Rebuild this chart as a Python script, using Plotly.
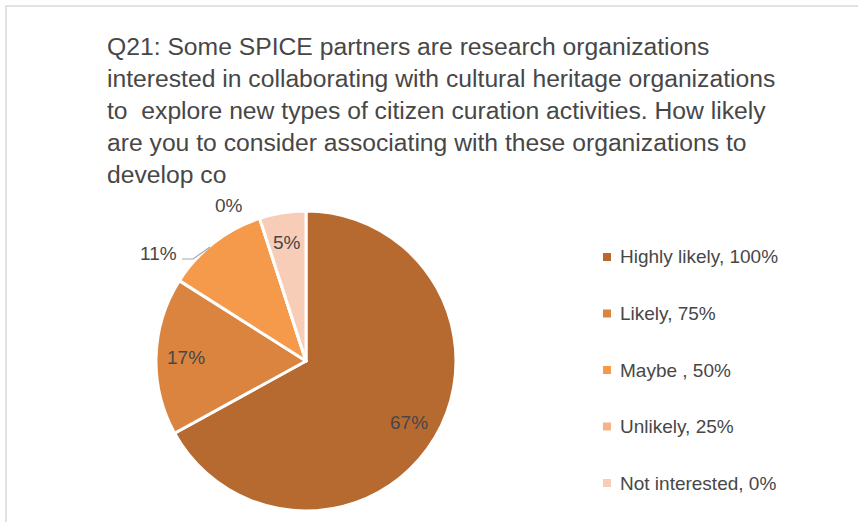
import math
import plotly.graph_objects as go

# Survey responses, Q21
labels = ["Highly likely, 100%", "Likely, 75%", "Maybe , 50%", "Unlikely, 25%", "Not interested, 0%"]
values = [67, 17, 11, 0, 5]
colors = ["#B76A30", "#DB843F", "#F59A4B", "#F6B38A", "#F8CDB8"]

title_lines = [
    "Q21: Some SPICE partners are research organizations",
    "interested in collaborating with cultural heritage organizations",
    "to  explore new types of citizen curation activities. How likely",
    "are you to consider associating with these organizations to",
    "develop co",
]

W, H = 858, 522
FONT = "Liberation Sans Narrow, Arial Narrow, Liberation Sans, sans-serif"
TEXT = "#474747"

total = sum(values)
pct = [f"{round(v / total * 100)}%" for v in values]


def px(x, y):
    """pixel position -> paper coordinates"""
    return x / W, 1 - y / H


# pie geometry (pixels)
cx, cy, r = 306, 361, 150
dx0, dy0 = px(cx - r, cy + r)
dx1, dy1 = px(cx + r, cy - r)

fig = go.Figure(
    go.Pie(
        labels=labels,
        values=values,
        sort=False,
        direction="clockwise",
        rotation=0,
        marker=dict(colors=colors, line=dict(color="white", width=3)),
        textinfo="none",
        domain=dict(x=[dx0, dx1], y=[dy0, dy1]),
        showlegend=False,
        hoverinfo="label+percent",
    )
)

annotations = []
shapes = []

# title
tx, ty = px(105, 31)
annotations.append(dict(
    text="<br>".join(title_lines), x=tx, y=ty, xref="paper", yref="paper",
    xanchor="left", yanchor="top", align="left", showarrow=False,
    font=dict(family=FONT, size=24.7, color=TEXT),
))

# data labels: placed on each slice's bisector at 80% of the radius;
# slices too thin for that get a callout instead
callouts = {2: (158, 253), 3: (229, 205)}
start = 0.0
for i, v in enumerate(values):
    sweep = v / total * 360.0
    mid = math.radians(start + sweep / 2)
    start += sweep
    if i in callouts:
        x, y = callouts[i]
    else:
        x = cx + 0.8 * r * math.sin(mid)
        y = cy - 0.8 * r * math.cos(mid)
    ax, ay = px(x, y)
    annotations.append(dict(
        text=pct[i], x=ax, y=ay, xref="paper", yref="paper",
        xanchor="center", yanchor="middle", showarrow=False,
        font=dict(family=FONT, size=19, color=TEXT),
    ))

# leader line for the "Maybe" callout
pts = [px(182, 259), px(193, 259), px(210, 247)]
path = "M " + " L ".join(f"{a},{b}" for a, b in pts)
shapes.append(dict(type="path", path=path, xref="paper", yref="paper",
                   line=dict(color="#A6A6A6", width=1.2)))

# legend
leg_y0, leg_step = 257, 56.5
for i, (lab, col) in enumerate(zip(labels, colors)):
    yc = leg_y0 + i * leg_step
    sx0, sy0 = px(603, yc + 4)
    sx1, sy1 = px(611, yc - 4)
    shapes.append(dict(type="rect", xref="paper", yref="paper",
                       x0=sx0, x1=sx1, y0=sy0, y1=sy1,
                       fillcolor=col, line=dict(width=0)))
    lx, ly = px(618, yc)
    annotations.append(dict(
        text=lab, x=lx, y=ly, xref="paper", yref="paper",
        xanchor="left", yanchor="middle", showarrow=False,
        font=dict(family=FONT, size=19, color=TEXT),
    ))

# chart frame
fx0, fy1 = px(6, 6)
shapes.append(dict(type="rect", xref="paper", yref="paper",
                   x0=fx0, x1=1.02, y0=-0.02, y1=fy1,
                   line=dict(color="#D9D9D9", width=1.5), fillcolor="rgba(0,0,0,0)"))

fig.update_layout(
    width=W, height=H,
    margin=dict(l=0, r=0, t=0, b=0),
    paper_bgcolor="white",
    plot_bgcolor="white",
    annotations=annotations,
    shapes=shapes,
)

fig.write_html("out.html")
